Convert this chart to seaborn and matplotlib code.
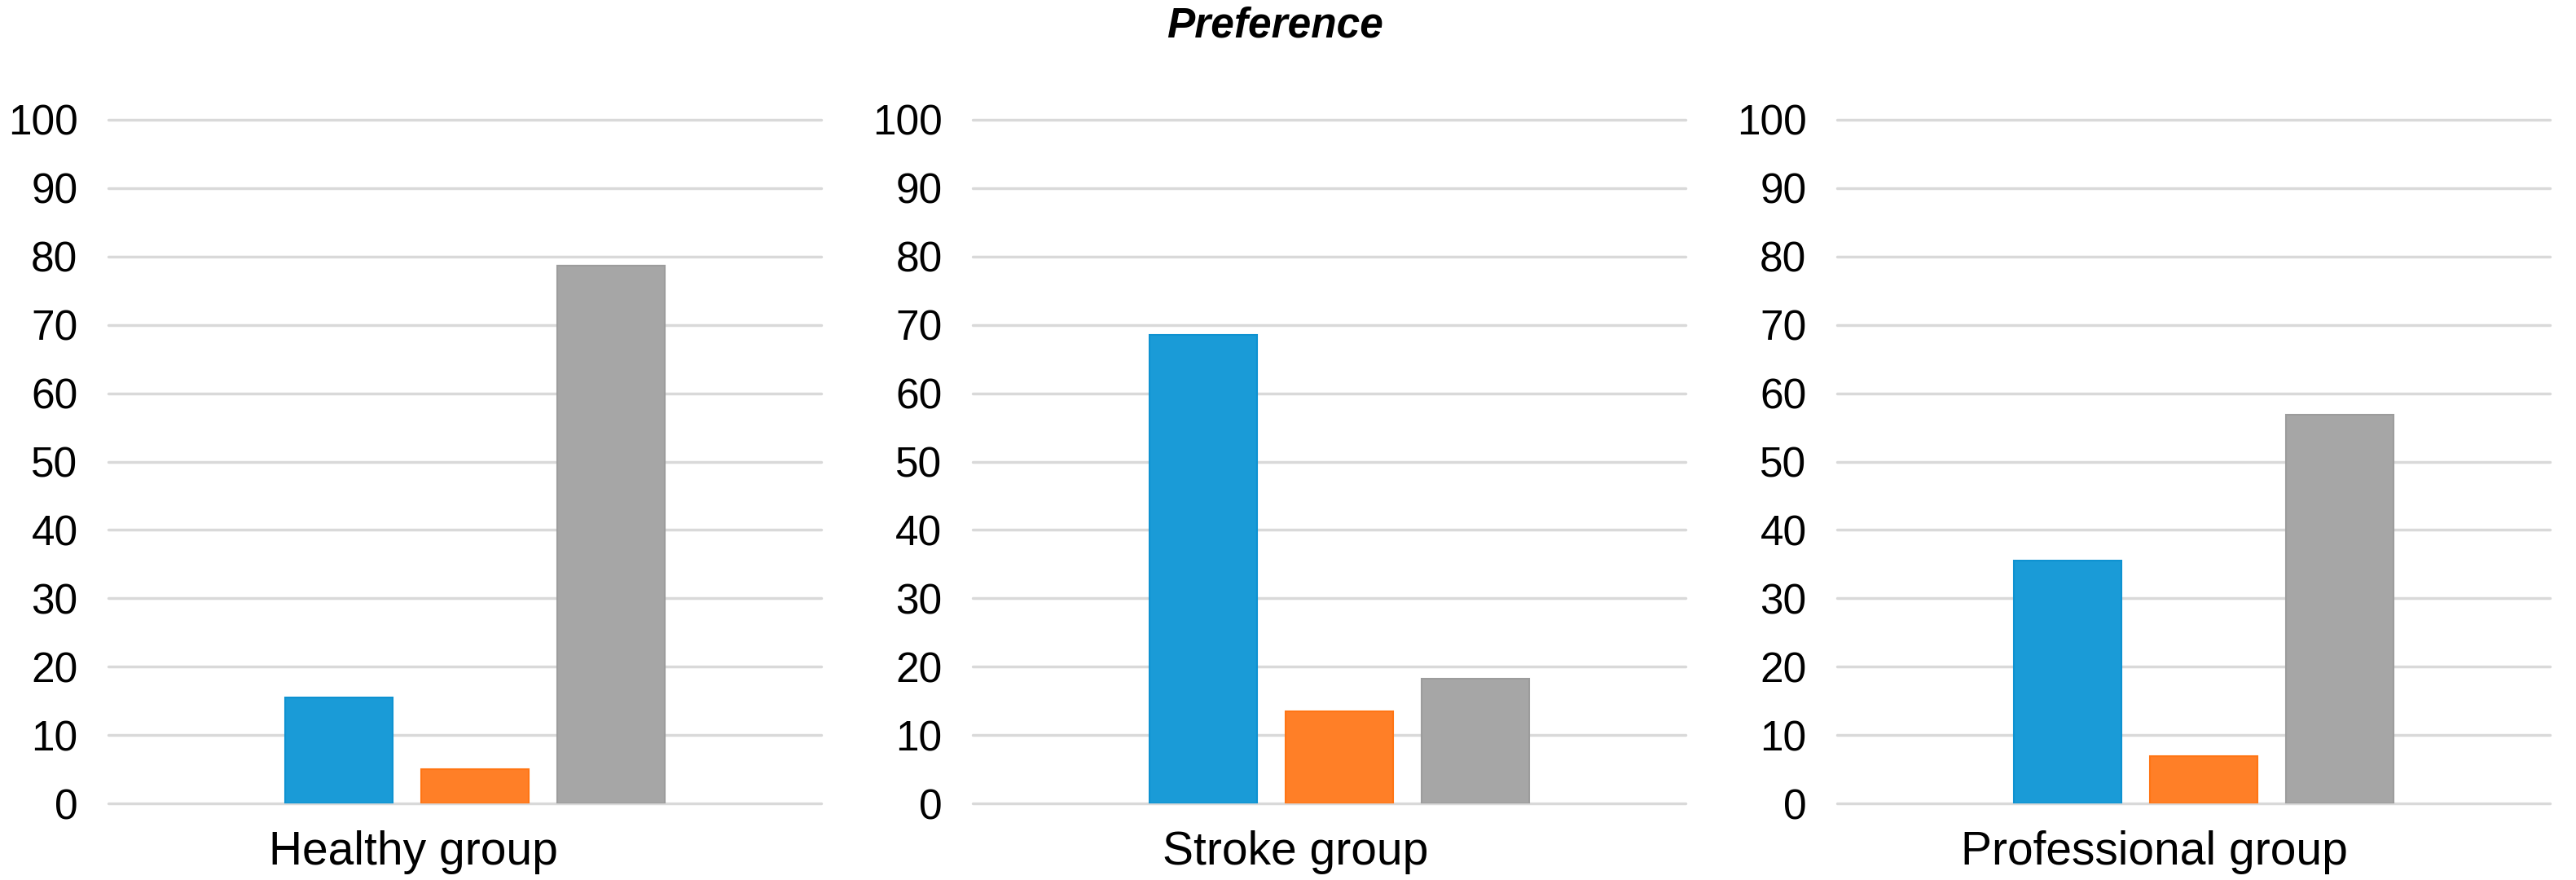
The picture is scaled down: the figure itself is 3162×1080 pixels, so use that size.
import matplotlib
matplotlib.use("Agg")
import matplotlib.pyplot as plt
import matplotlib.transforms as mtransforms
import pandas as pd
import seaborn as sns

# dane (procenty)
groups = ["Healthy group", "Stroke group", "Professional group"]
options = ["Option 1", "Option 2", "Option 3"]
healthy = [15.5, 5.0, 78.7]
stroke = [68.5, 13.5, 18.2]
professional = [35.5, 6.9, 56.8]
y_ticks = list(range(0, 101, 10))

bar_colors = ["#1A9BD7", "#FF7F27", "#A6A6A6"]
edge_colors = ["#0E92D1", "#FF7514", "#9C9C9C"]

sns.set_theme(style="white")
plt.rcParams["font.family"] = ["Liberation Sans", "DejaVu Sans"]

W, H = 3162, 1080
fig = plt.figure(figsize=(W / 100, H / 100), dpi=100)

lefts = [133, 1194, 2255]
label_shift = [-0.75, -0.54, -0.60]  # cale, podpisy nie sa wysrodkowane
for i, (grupa, wartosci) in enumerate(zip(groups, [healthy, stroke, professional])):
    ax = fig.add_axes([lefts[i] / W, 94 / H, 875 / W, 839 / H])
    df = pd.DataFrame({"group": [grupa] * 3, "option": options, "value": wartosci})
    sns.barplot(
        data=df, x="group", y="value", hue="option", palette=bar_colors,
        saturation=1, width=0.5726, gap=0.2095, legend=False, ax=ax,
    )
    for patch, ec in zip(ax.patches, edge_colors):
        patch.set_edgecolor(ec)
        patch.set_linewidth(1.5)

    ax.set_xlim(-0.514, 0.486)
    ax.set_ylim(0, 100)
    ax.set_yticks(y_ticks)
    ax.set_xlabel("")
    ax.set_ylabel("")
    ax.yaxis.grid(True, color="#D9D9D9", linewidth=2.5)
    ax.set_axisbelow(True)
    for line in ax.get_ygridlines():
        line.set_clip_on(False)
    sns.despine(ax=ax, left=True, bottom=True)
    ax.tick_params(axis="y", length=0, labelsize=37, pad=27, labelcolor="black")
    ax.tick_params(axis="x", length=0, labelsize=41, pad=24, labelcolor="black")
    offset = mtransforms.ScaledTranslation(label_shift[i], 0, fig.dpi_scale_trans)
    for lab in ax.get_xticklabels():
        lab.set_transform(lab.get_transform() + offset)

fig.text(1565 / W, 1 - 46 / H, "Preference", ha="center", va="baseline",
         fontsize=37, fontstyle="italic", fontweight="bold", color="black")

fig.savefig("out.png", dpi=100, facecolor="white")
